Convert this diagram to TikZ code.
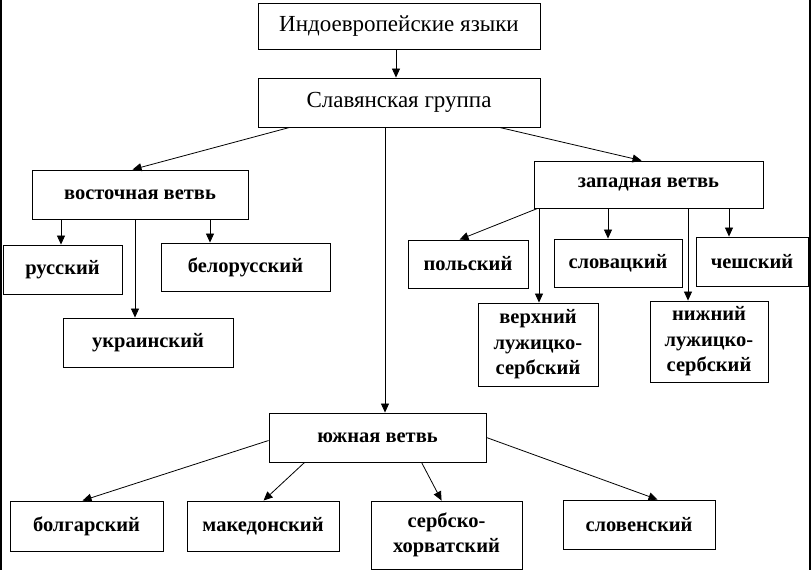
\documentclass[tikz,border=0pt]{standalone}
\usepackage{fontspec}
\setmainfont{Liberation Serif}
\usetikzlibrary{arrows.meta,calc}
\tikzset{
  box/.style={draw=black, line width=0.9pt, fill=white, inner sep=0pt, align=center,
    font=\bfseries\fontsize{20.5}{25.5}\selectfont},
  topbox/.style={box, font=\fontsize{23}{25}\selectfont},
  arr/.style={draw=black, line width=0.8pt, -{Triangle[length=9pt,width=8pt]}},
  plain/.style={draw=black, line width=0.8pt}
}
\begin{document}
\begin{tikzpicture}[x=1pt,y=1pt]
\useasboundingbox (0,0) rectangle (811,-570);
\fill[white] (0,0) rectangle (811,-570);
\draw[line width=2pt] (1,0) -- (1,-570);
\draw[line width=2pt] (810,0) -- (810,-570);
% boxes
\node[topbox, minimum width=282, minimum height=46] (ie) at (399,-26) {Индоевропейские языки};
\node[topbox, minimum width=282, minimum height=49] (sl) at (399,-102.5) {Славянская группа};
\node[box, minimum width=216, minimum height=49] (east) at (140,-194.5) {восточная ветвь};
\node[box, minimum width=119, minimum height=49] (rus) at (62.5,-269.5) {русский};
\node[box, minimum width=169, minimum height=48] (bel) at (245.5,-267) {белорусский};
\node[box, minimum width=170, minimum height=49] (ukr) at (148,-342.5) {украинский};
\node[box, minimum width=229, minimum height=47] (west) at (648.5,-184.5) {западная ветвь};
\node[box, minimum width=120, minimum height=48] (pol) at (468,-264) {польский};
\node[box, minimum width=128, minimum height=48] (slk) at (618,-263) {словацкий};
\node[box, minimum width=112, minimum height=49] (cz) at (752,-261.5) {чешский};
\node[box, minimum width=120, minimum height=83] (upper) at (538,-344.5) {верхний\\лужицко-\\сербский};
\node[box, minimum width=118, minimum height=81] (lower) at (709,-341.5) {нижний\\лужицко-\\сербский};
\node[box, minimum width=217, minimum height=49] (south) at (377.5,-437.5) {южная ветвь};
\node[box, minimum width=153, minimum height=50] (bul) at (86.5,-526) {болгарский};
\node[box, minimum width=152, minimum height=50] (mac) at (263,-526) {македонский};
\node[box, minimum width=151, minimum height=68] (sc) at (446.5,-535) {сербско-\\хорватский};
\node[box, minimum width=152, minimum height=49] (slv) at (639,-524.5) {словенский};
% connectors
\draw[arr] (ie.south -| 396,0) -- (sl.north -| 396,0);
\draw[arr] ([xshift=32pt]sl.south west) -- ([xshift=101pt]east.north west);
\draw[arr] ([xshift=242pt]sl.south west) -- ([xshift=108pt]west.north west);
\draw[arr] (sl.south -| 385,0) -- (south.north -| 385,0);
\draw[arr] (east.south -| 61,0) -- (rus.north -| 61,0);
\draw[arr] (east.south -| 135,0) -- (ukr.north -| 135,0);
\draw[arr] (east.south -| 210,0) -- (bel.north -| 210,0);
\draw[arr] ([xshift=4pt]west.south west) -- ([xshift=52pt]pol.north west);
\draw[arr] (west.south -| 539,0) -- (upper.north -| 539,0);
\draw[arr] (west.south -| 608,0) -- (slk.north -| 608,0);
\draw[arr] (west.south -| 688,0) -- (lower.north -| 688,0);
\draw[arr] (west.south -| 729,0) -- (cz.north -| 729,0);
\draw[arr] ([yshift=-3pt]south.west) -- ([xshift=73pt]bul.north west);
\draw[arr] ([xshift=36pt]south.south west) -- ([xshift=77pt]mac.north west);
\draw[arr] ([xshift=153pt]south.south west) -- ([xshift=71pt]sc.north west);
\draw[arr] ([yshift=0pt]south.east) -- ([xshift=95pt]slv.north west);
\end{tikzpicture}
\end{document}
